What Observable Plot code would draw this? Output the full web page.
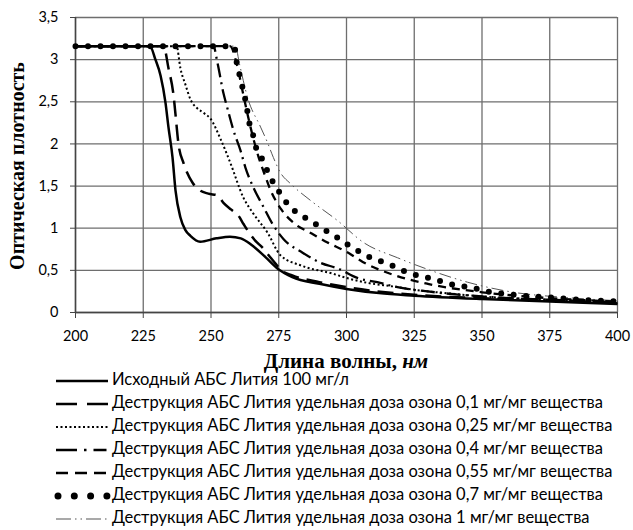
<!DOCTYPE html>
<html><head><meta charset="utf-8">
<script src="https://cdn.jsdelivr.net/npm/d3@7"></script>
<script src="https://cdn.jsdelivr.net/npm/@observablehq/plot@0.6"></script>
<style>
body{margin:0;background:#fff;}
svg{display:block;}
</style>
</head><body>
<div id="chart"></div>
<script>
const seriesNames = [
  "Исходный АБС Лития 100 мг/л",
  "Деструкция АБС Лития удельная доза озона 0,1 мг/мг вещества",
  "Деструкция АБС Лития удельная доза озона 0,25 мг/мг вещества",
  "Деструкция АБС Лития удельная доза озона 0,4 мг/мг вещества",
  "Деструкция АБС Лития удельная доза озона 0,55 мг/мг вещества",
  "Деструкция АБС Лития удельная доза озона 0,7 мг/мг вещества",
  "Деструкция АБС Лития удельная доза озона 1 мг/мг вещества"
];
const xTicks = [200, 225, 250, 275, 300, 325, 350, 375, 400];
const yTicks = [0, 0.5, 1, 1.5, 2, 2.5, 3, 3.5];

const wl0 = [200, 227.5, 229.5, 231.4, 233.2, 234.3, 235.8, 236.9, 238.7, 240.5, 242.4, 246, 252, 257, 261, 265, 270, 275, 280, 290, 300, 312, 325, 350, 375, 400];
const od0 = [3.16, 3.16, 3.0, 2.81, 2.49, 2.2, 1.84, 1.45, 1.13, 0.98, 0.91, 0.84, 0.88, 0.9, 0.88, 0.8, 0.66, 0.51, 0.42, 0.34, 0.28, 0.23, 0.2, 0.16, 0.13, 0.1];

const wl1 = [200, 232.5, 234.3, 236.2, 236.9, 238, 239.9, 243.2, 245.4, 249, 252.4, 254.6, 257.5, 260.1, 262, 264, 266.4, 269, 271.5, 273.8, 276, 280, 290, 300, 325, 350, 375, 400];
const od1 = [3.16, 3.16, 2.9, 2.57, 2.35, 2.0, 1.77, 1.54, 1.46, 1.41, 1.39, 1.3, 1.22, 1.15, 1.05, 0.95, 0.85, 0.77, 0.67, 0.58, 0.5, 0.44, 0.36, 0.3, 0.21, 0.17, 0.15, 0.12];

const wl2 = [200, 237.3, 238.7, 240.6, 242.4, 245, 247.2, 249.8, 253.5, 257.2, 262, 265.7, 270.8, 275.6, 283, 295, 300, 308, 317, 325, 340, 350, 375, 400];
const od2 = [3.16, 3.16, 2.9, 2.7, 2.53, 2.42, 2.37, 2.3, 2.06, 1.77, 1.36, 1.17, 0.95, 0.68, 0.56, 0.46, 0.41, 0.35, 0.31, 0.27, 0.22, 0.19, 0.15, 0.11];

const wl3 = [200, 250.9, 252.4, 254.6, 256, 258.3, 260.9, 262.7, 265.7, 269.4, 272.7, 276.8, 283.8, 290.4, 297, 304, 311.4, 318.8, 330, 350, 375, 400];
const od3 = [3.16, 3.16, 2.96, 2.6, 2.43, 2.16, 1.92, 1.72, 1.48, 1.25, 1.05, 0.87, 0.71, 0.59, 0.52, 0.41, 0.36, 0.3, 0.25, 0.19, 0.15, 0.11];

const wl4 = [200, 257, 259.5, 261.5, 263.5, 265.5, 267.5, 270, 272, 276, 281, 287, 293, 300, 306, 317, 330, 350, 375, 400];
const od4 = [3.16, 3.16, 2.95, 2.65, 2.35, 2.08, 1.85, 1.62, 1.45, 1.22, 1.05, 0.94, 0.83, 0.72, 0.6, 0.45, 0.34, 0.24, 0.17, 0.13];

const wl5 = [200, 258.5, 259.8, 260.9, 262, 263.1, 263.8, 265.3, 266.4, 268.6, 270.8, 273, 275.6, 278.2, 282.3, 286.7, 290.8, 295.2, 299.3, 303.3, 307.7, 312.5, 317.3, 321.4, 326.2, 331.7, 335.8, 341, 345.8, 350.6, 361.6, 374.2, 387, 400];
const od5 = [3.16, 3.16, 2.9, 2.78, 2.61, 2.46, 2.3, 2.14, 1.98, 1.84, 1.68, 1.54, 1.41, 1.29, 1.17, 1.09, 1.0, 0.92, 0.83, 0.75, 0.67, 0.61, 0.55, 0.49, 0.44, 0.4, 0.36, 0.32, 0.3, 0.26, 0.21, 0.18, 0.15, 0.13];

const wl6 = [200, 259, 260.5, 263.5, 268.3, 270.8, 273, 275.6, 279.3, 286.7, 296.7, 306.3, 318.8, 331, 344.6, 361.6, 380, 400];
const od6 = [3.16, 3.16, 2.95, 2.55, 2.2, 2.02, 1.84, 1.66, 1.53, 1.33, 1.09, 0.83, 0.65, 0.5, 0.36, 0.24, 0.18, 0.14];

const wls = [wl0, wl1, wl2, wl3, wl4, wl5, wl6];
const ods = [od0, od1, od2, od3, od4, od5, od6];

// styles (presentation only); legDash = pattern of the legend sample
const styles = [
  {stroke: "#000", strokeWidth: 2.5, dash: null, cap: "butt", legDash: null, legWidth: 2.5},
  {stroke: "#000", strokeWidth: 2.5, dash: "16,8", cap: "butt", legDash: "21,10", legWidth: 2.5},
  {stroke: "#000", strokeWidth: 2, dash: "2,2.5", cap: "butt", legDash: "2,2.5", legWidth: 2},
  {stroke: "#000", strokeWidth: 2.3, dash: "14,5,2,5", cap: "butt", legDash: "21,7,2.5,7,13,60", legWidth: 2.5},
  {stroke: "#000", strokeWidth: 2.3, dash: "8,6", cap: "butt", legDash: "12,7", legWidth: 2.5},
  {stroke: "#000", strokeWidth: 6, dash: "0,12.5", cap: "round", legDash: "0,16.3", legWidth: 7},
  {stroke: "#555", strokeWidth: 1, dash: "12,4,1.5,4,1.5,4", cap: "butt", legDash: "15,4,1.5,4,1.5,4", legWidth: 1.2}
];

const tables = seriesNames.map((name, i) => wls[i].map((w, j) => ({series: name, wl: w, od: ods[i][j]})));

const fmt = d => String(d).replace(".", ",");
const tickFont = "Lato, 'Open Sans', sans-serif";

const marks = [
  Plot.gridX(xTicks, {stroke: "#6e6e6e", strokeOpacity: 1, strokeWidth: 1.3}),
  Plot.gridY(yTicks, {stroke: "#6e6e6e", strokeOpacity: 1, strokeWidth: 1.3}),
  Plot.axisX(xTicks, {tickSize: 6, tickPadding: 12, tickFormat: d => String(d), fontSize: 14.5, fontFamily: tickFont, fill: "#000", label: null, stroke: "#444"}),
  Plot.axisY(yTicks, {tickSize: 5, tickPadding: 12, tickFormat: fmt, fontSize: 14.5, fontFamily: tickFont, fill: "#000", label: null, stroke: "#444"}),
  Plot.ruleX([200], {stroke: "#444", strokeWidth: 1.5}),
  Plot.ruleY([0], {stroke: "#444", strokeWidth: 1.5})
];
const order = [6, 4, 3, 2, 1, 0, 5];
for (const i of order) {
  const s = styles[i];
  marks.push(Plot.line(tables[i], {
    x: "wl", y: "od", curve: "monotone-x",
    stroke: s.stroke, strokeWidth: s.strokeWidth,
    strokeDasharray: s.dash, strokeLinecap: s.cap
  }));
}

const W = 633, H = 345;
const chart = Plot.plot({
  width: W, height: H,
  marginLeft: 75, marginRight: 16, marginTop: 17, marginBottom: 33,
  x: {domain: [200, 400]},
  y: {domain: [0, 3.5]},
  style: {background: "#fff"},
  marks
});
document.getElementById("chart").appendChild(chart);

const svg = d3.select(chart);
svg.append("text")
  .attr("transform", "translate(19,166) rotate(-90)")
  .attr("text-anchor", "middle")
  .attr("dominant-baseline", "middle")
  .style("font-family", "'Liberation Serif', serif")
  .style("font-weight", "bold")
  .style("font-size", "20px")
  .text("Оптическая плотность");

// x-axis title and legend below the plot
const LH = 530 - H;
const below = d3.select("body").append("svg").attr("width", W).attr("height", LH);
const xt = below.append("text")
  .attr("x", 346).attr("y", 368 - H)
  .attr("text-anchor", "middle")
  .style("font-family", "'Liberation Serif', serif")
  .style("font-weight", "bold")
  .style("font-size", "21px");
xt.append("tspan").text("Длина волны, ");
xt.append("tspan").style("font-style", "italic").text("нм");

const rowY0 = 381 - H, rowStep = 23;
seriesNames.forEach((name, i) => {
  const s = styles[i];
  const y = rowY0 + i * rowStep;
  below.append("line")
    .attr("x1", i === 5 ? 58 : 56).attr("x2", 108).attr("y1", y).attr("y2", y)
    .attr("stroke", s.stroke).attr("stroke-width", s.legWidth)
    .attr("stroke-dasharray", s.legDash).attr("stroke-linecap", s.cap);
  below.append("text")
    .attr("x", 112).attr("y", y)
    .attr("dominant-baseline", "middle")
    .style("font-family", tickFont)
    .style("font-size", "16.5px")
    .text(name);
});
</script>
</body></html>
